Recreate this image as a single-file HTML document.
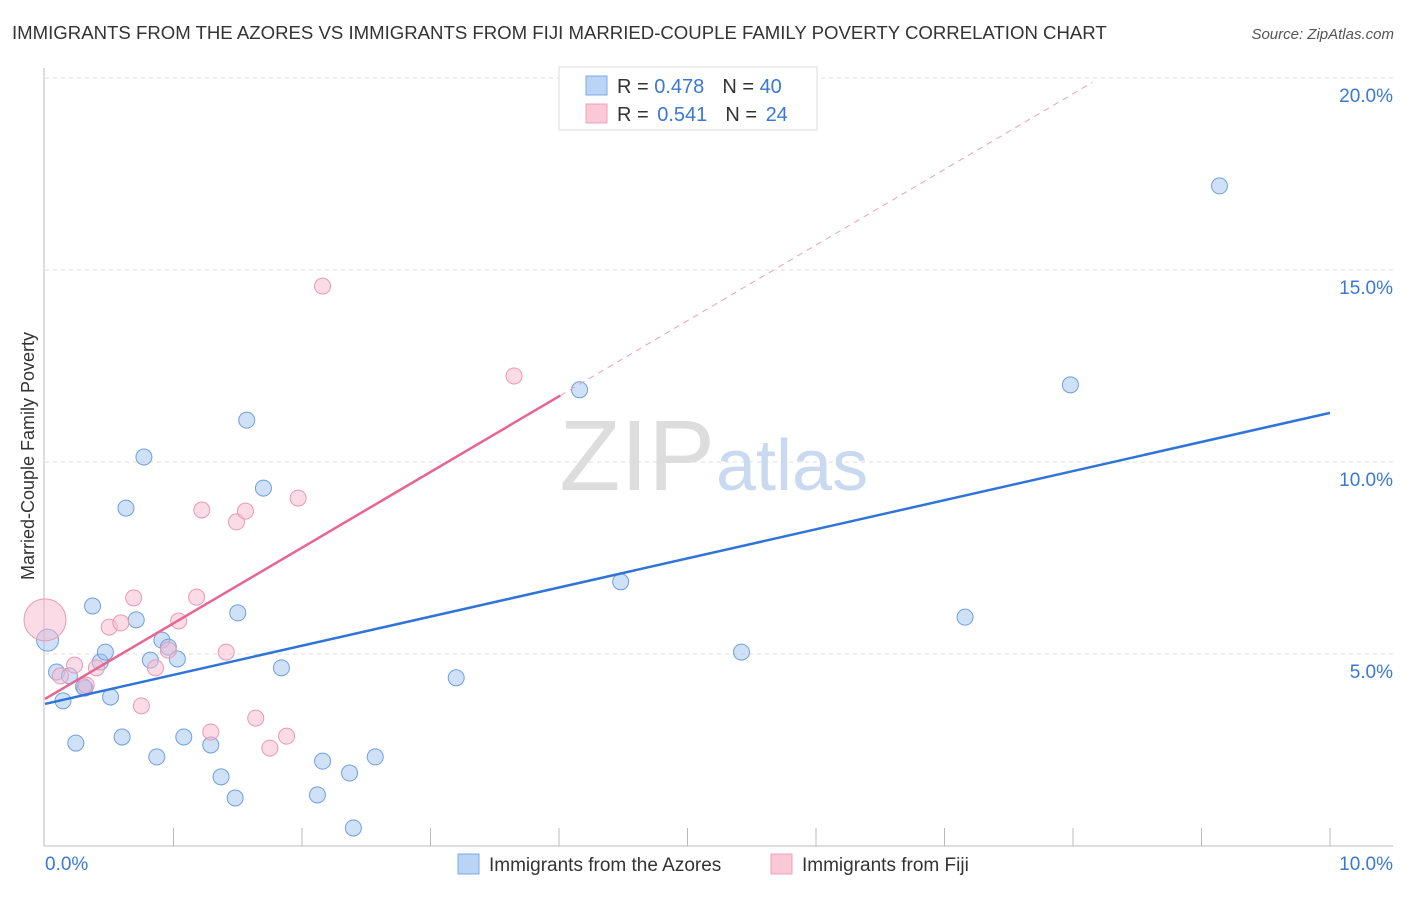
<!DOCTYPE html>
<html><head><meta charset="utf-8"><style>
body{margin:0;background:#fff;font-family:"Liberation Sans",sans-serif;}
svg text{font-family:"Liberation Sans",sans-serif;}
</style></head><body>
<svg id="chart" width="1406" height="892">
<text x="12" y="39" font-size="18.6" fill="#333">IMMIGRANTS FROM THE AZORES VS IMMIGRANTS FROM FIJI MARRIED-COUPLE FAMILY POVERTY CORRELATION CHART</text>
<text x="1394" y="39" font-size="15" fill="#555" font-style="italic" text-anchor="end">Source: ZipAtlas.com</text>
<text x="0" y="0" transform="translate(34,456) rotate(-90)" font-size="18" fill="#333" text-anchor="middle">Married-Couple Family Poverty</text>
<g id="grid"></g>
<text x="715" y="490" font-size="100" font-family="Liberation Serif" fill="#ddd" text-anchor="end">ZIP</text>
<text x="716" y="490" font-size="72" fill="#c8d9f0">atlas</text>
<g id="marks"></g>
<g>
<rect x="559" y="67" width="258" height="63" fill="#fff" stroke="#ddd"/>
<rect x="586" y="76" width="21" height="19" fill="#b9d4f5" stroke="#7fa9e6"/>
<rect x="586" y="104" width="21" height="19" fill="#fac8d7" stroke="#eea0b8"/>
<text x="617" y="93" font-size="20" fill="#333">R = <tspan fill="#3a78d4">0.478</tspan><tspan dx="18">N = </tspan><tspan fill="#3a78d4">40</tspan></text>
<text x="617" y="121" font-size="20" fill="#333">R = <tspan fill="#3a78d4" dx="3">0.541</tspan><tspan dx="18">N = </tspan><tspan fill="#3a78d4" dx="3">24</tspan></text>
</g>
<g>
<rect x="458" y="854" width="21" height="20" fill="#b9d4f5" stroke="#7fa9e6"/>
<text x="489" y="871" font-size="19" fill="#333">Immigrants from the Azores</text>
<rect x="771" y="854" width="21" height="20" fill="#fac8d7" stroke="#eea0b8"/>
<text x="802" y="871" font-size="19" fill="#333">Immigrants from Fiji</text>
</g>
</svg>
<script>
const azoresX=[0.02,0.09,0.14,0.19,0.24,0.31,0.37,0.43,0.47,0.51,0.60,0.63,0.71,0.77,0.82,0.87,0.91,0.96,1.03,1.08,1.29,1.37,1.48,1.50,1.57,1.70,1.84,2.12,2.16,2.37,2.40,2.57,3.20,4.16,4.48,5.42,7.16,7.98,9.14,0.30];
const azoresY=[5.36,4.53,3.78,4.43,2.68,4.11,6.25,4.79,5.05,3.88,2.84,8.80,5.89,10.13,4.84,2.32,5.36,5.18,4.87,2.84,2.63,1.80,1.25,6.07,11.09,9.32,4.64,1.33,2.21,1.90,0.47,2.32,4.38,11.88,6.88,5.05,5.96,12.01,17.19,4.15];
const fijiX=[0.0,0.12,0.23,0.32,0.40,0.50,0.59,0.69,0.75,0.86,0.96,1.04,1.18,1.22,1.29,1.41,1.49,1.56,1.64,1.75,1.88,1.97,2.16,3.65];
const fijiY=[5.89,4.43,4.71,4.19,4.64,5.70,5.81,6.46,3.65,4.64,5.10,5.86,6.48,8.75,2.97,5.05,8.44,8.72,3.33,2.55,2.86,9.06,14.58,12.24];
const yTicks=[5,10,15,20];
const yTickLabels=["5.0%","10.0%","15.0%","20.0%"];
const azoresTrend=[3.70,11.28];
const fijiTrend=[3.83,1.97];
const X=v=>45+v*128.5, Y=v=>846-v*38.4;
const NS="http://www.w3.org/2000/svg";
const grid=document.getElementById('grid'), marks=document.getElementById('marks');
function mk(p,tag,a){const e=document.createElementNS(NS,tag);for(const k in a)e.setAttribute(k,a[k]);p.appendChild(e);return e;}
yTicks.forEach((t,i)=>{
 const l=mk(grid,'line',{x1:45,x2:1393,y1:Y(t),y2:Y(t),stroke:'#ddd','stroke-dasharray':'4,4'});
 
 
 const tx=mk(grid,'text',{x:1393,y:Y(t)+24,'font-size':19,fill:'#3a78d4','text-anchor':'end'});
 tx.textContent=yTickLabels[i];
 
 
});
mk(grid,'line',{x1:44,x2:44,y1:68,y2:846,stroke:'#bbb'});
mk(grid,'line',{x1:44,x2:1393,y1:846,y2:846,stroke:'#bbb'});
for(let i=1;i<=10;i++){const t=mk(grid,'line',{x1:X(i),x2:X(i),y1:828,y2:846,stroke:'#bbb'});
 
 }
const x0=mk(grid,'text',{x:45,y:870,'font-size':19,fill:'#3a78d4'});x0.textContent='0.0%';


const x1=mk(grid,'text',{x:1393,y:870,'font-size':19,fill:'#3a78d4','text-anchor':'end'});x1.textContent='10.0%';


azoresX.forEach((v,i)=>{const c=mk(marks,'circle',{cx:X(v),cy:Y(azoresY[i]),r:i==0?11:8,fill:'rgba(160,195,240,0.5)',stroke:'#6f9fe0','stroke-width':1});
 
 });
fijiX.forEach((v,i)=>{const c=mk(marks,'circle',{cx:X(v),cy:Y(fijiY[i]),r:i==0?21:8,fill:'rgba(248,185,205,0.5)',stroke:'#eb98b3','stroke-width':1});
 
 });
const bt=mk(marks,'line',{x1:X(0),y1:Y(azoresTrend[0]),x2:X(10),y2:Y(azoresTrend[1]),stroke:'#2f74d8','stroke-width':2.5});


const ft=mk(marks,'line',{x1:X(0),y1:Y(fijiTrend[0]),x2:X(4.01),y2:Y(fijiTrend[0]+fijiTrend[1]*4.01),stroke:'#e8658f','stroke-width':2.5});


const fd=mk(marks,'line',{x1:X(4.01),y1:Y(fijiTrend[0]+fijiTrend[1]*4.01),x2:X(8.15),y2:Y(fijiTrend[0]+fijiTrend[1]*8.15),stroke:'#eaa0b8','stroke-width':1,'stroke-dasharray':'6,5'});


</script>
</body></html>
